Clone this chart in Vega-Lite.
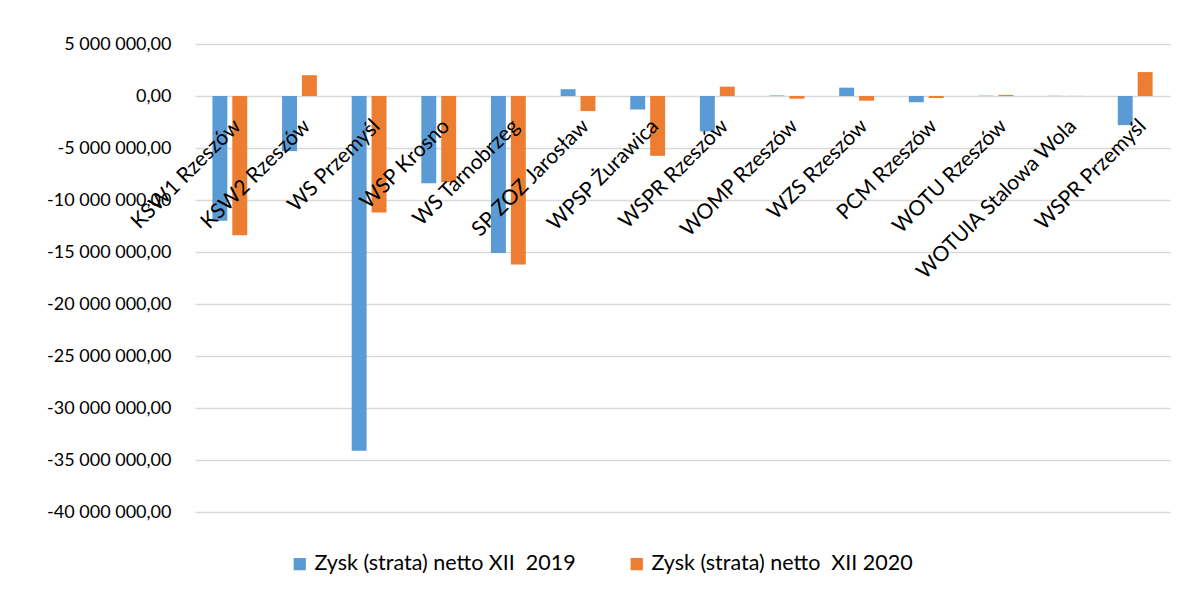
{
  "$schema": "https://vega.github.io/schema/vega-lite/v6.json",
  "autosize": {"type": "none"},
  "width": 975,
  "height": 468,
  "padding": {"left": 195, "top": 44, "right": 16, "bottom": 83},
  "background": "white",
  "config": {
    "locale": {"number": {"decimal": ",", "thousands": " ", "grouping": [3], "currency": ["", " zł"], "minus": "-"}},
    "font": "Lato",
    "view": {"stroke": null}
  },
  "data": {"values": [
    {"cat": "KSW1 Rzeszów", "series": "Zysk (strata) netto XII \u00a02019", "value": -12000000},
    {"cat": "KSW1 Rzeszów", "series": "Zysk (strata) netto \u00a0XII 2020", "value": -13400000},
    {"cat": "KSW2 Rzeszów", "series": "Zysk (strata) netto XII \u00a02019", "value": -5300000},
    {"cat": "KSW2 Rzeszów", "series": "Zysk (strata) netto \u00a0XII 2020", "value": 2000000},
    {"cat": "WS Przemyśl", "series": "Zysk (strata) netto XII \u00a02019", "value": -34100000},
    {"cat": "WS Przemyśl", "series": "Zysk (strata) netto \u00a0XII 2020", "value": -11200000},
    {"cat": "WSP Krosno", "series": "Zysk (strata) netto XII \u00a02019", "value": -8400000},
    {"cat": "WSP Krosno", "series": "Zysk (strata) netto \u00a0XII 2020", "value": -8300000},
    {"cat": "WS Tarnobrzeg", "series": "Zysk (strata) netto XII \u00a02019", "value": -15100000},
    {"cat": "WS Tarnobrzeg", "series": "Zysk (strata) netto \u00a0XII 2020", "value": -16200000},
    {"cat": "SP ZOZ Jarosław", "series": "Zysk (strata) netto XII \u00a02019", "value": 650000},
    {"cat": "SP ZOZ Jarosław", "series": "Zysk (strata) netto \u00a0XII 2020", "value": -1450000},
    {"cat": "WPSP Żurawica", "series": "Zysk (strata) netto XII \u00a02019", "value": -1300000},
    {"cat": "WPSP Żurawica", "series": "Zysk (strata) netto \u00a0XII 2020", "value": -5750000},
    {"cat": "WSPR Rzeszów", "series": "Zysk (strata) netto XII \u00a02019", "value": -3400000},
    {"cat": "WSPR Rzeszów", "series": "Zysk (strata) netto \u00a0XII 2020", "value": 900000},
    {"cat": "WOMP Rzeszów", "series": "Zysk (strata) netto XII \u00a02019", "value": 50000},
    {"cat": "WOMP Rzeszów", "series": "Zysk (strata) netto \u00a0XII 2020", "value": -260000},
    {"cat": "WZS Rzeszów", "series": "Zysk (strata) netto XII \u00a02019", "value": 800000},
    {"cat": "WZS Rzeszów", "series": "Zysk (strata) netto \u00a0XII 2020", "value": -450000},
    {"cat": "PCM Rzeszów", "series": "Zysk (strata) netto XII \u00a02019", "value": -600000},
    {"cat": "PCM Rzeszów", "series": "Zysk (strata) netto \u00a0XII 2020", "value": -200000},
    {"cat": "WOTU Rzeszów", "series": "Zysk (strata) netto XII \u00a02019", "value": 30000},
    {"cat": "WOTU Rzeszów", "series": "Zysk (strata) netto \u00a0XII 2020", "value": 100000},
    {"cat": "WOTUIA Stalowa Wola", "series": "Zysk (strata) netto XII \u00a02019", "value": 20000},
    {"cat": "WOTUIA Stalowa Wola", "series": "Zysk (strata) netto \u00a0XII 2020", "value": 10000},
    {"cat": "WSPR Przemyśl", "series": "Zysk (strata) netto XII \u00a02019", "value": -2800000},
    {"cat": "WSPR Przemyśl", "series": "Zysk (strata) netto \u00a0XII 2020", "value": 2300000}
  ]},
  "mark": {"type": "bar"},
  "encoding": {
    "x": {
      "field": "cat", "type": "nominal", "sort": null,
      "scale": {"paddingInner": 0.5, "paddingOuter": 0.25},
      "axis": {
        "title": null, "orient": "bottom", "offset": -416, "zindex": 1,
        "domain": false, "ticks": false, "labelAngle": -45,
        "labelFontSize": 21, "labelColor": "#000000", "labelPadding": 19,
        "labelDx": -5, "labelDy": 3,
        "labelOverlap": false, "labelLimit": 0
      }
    },
    "xOffset": {"field": "series", "type": "nominal", "scale": {"paddingInner": 0.25}},
    "y": {
      "field": "value", "type": "quantitative",
      "scale": {"domain": [-40000000, 5000000], "nice": false, "zero": false},
      "axis": {
        "title": null, "format": ",.2f", "domain": false, "ticks": false,
        "values": [-40000000, -35000000, -30000000, -25000000, -20000000, -15000000, -10000000, -5000000, 0, 5000000],
        "gridColor": "#D9D9D9", "gridWidth": 1.3,
        "labelFontSize": 18, "labelColor": "#000000", "labelPadding": 24
      }
    },
    "color": {
      "field": "series", "type": "nominal",
      "scale": {"range": ["#5B9BD5", "#ED7D31"]},
      "legend": {
        "title": null, "orient": "none", "direction": "horizontal",
        "legendX": 94, "legendY": 509,
        "symbolType": "square", "symbolSize": 150, "symbolStrokeWidth": 0,
        "labelFontSize": 21.5, "labelColor": "#000000", "labelOffset": 4,
        "columnPadding": 50, "labelLimit": 0
      }
    }
  }
}
